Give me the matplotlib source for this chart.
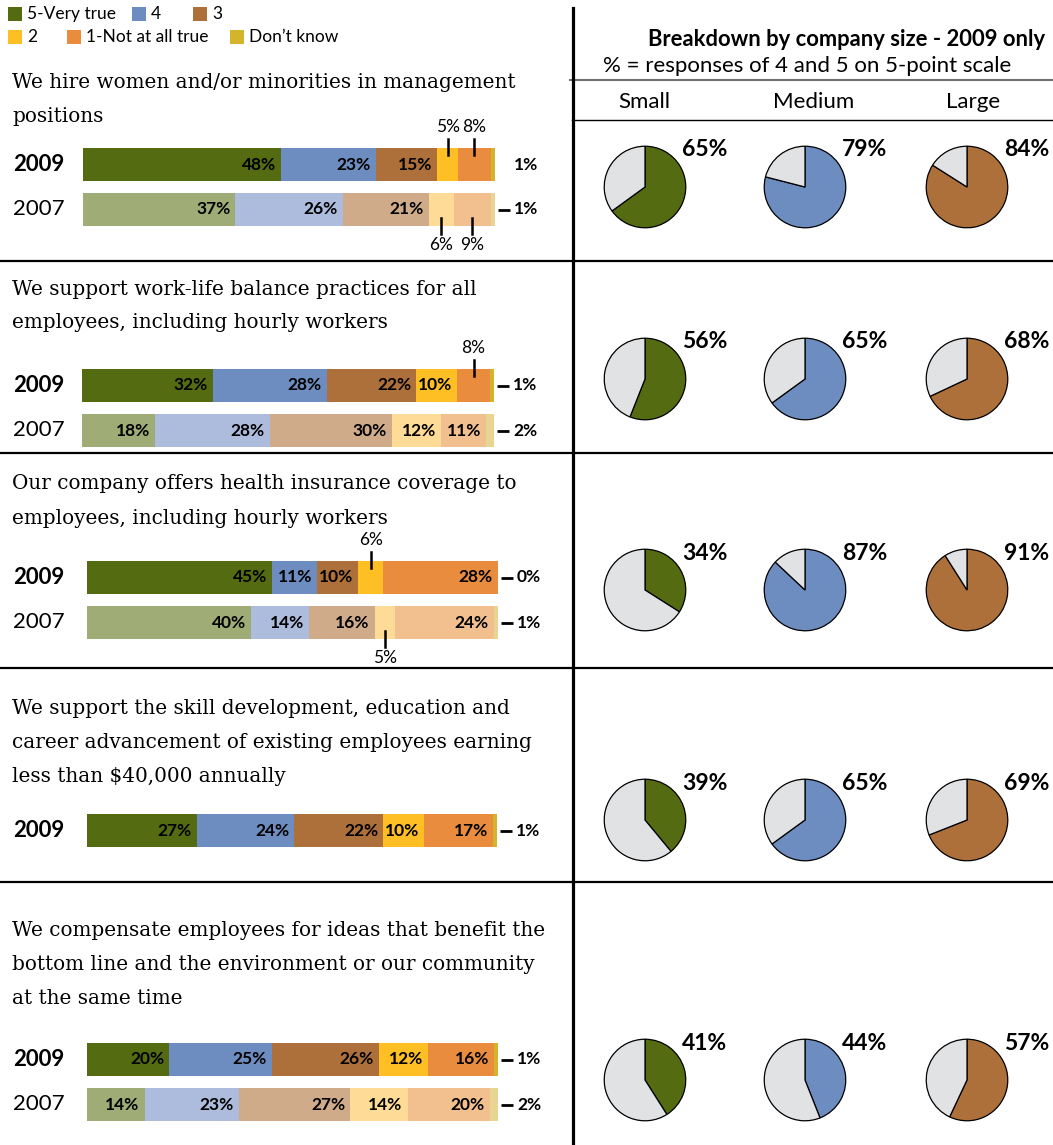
import numpy as np
import matplotlib
matplotlib.use("Agg")
import matplotlib.pyplot as plt
from matplotlib.lines import Line2D
from matplotlib.patches import Rectangle

# ---- data ----
categories = ["5-Very true", "4", "3", "2", "1-Not at all true", "Don\u2019t know"]
questions = [
    ["We hire women and/or minorities in management", "positions"],
    ["We support work-life balance practices for all", "employees, including hourly workers"],
    ["Our company offers health insurance coverage to", "employees, including hourly workers"],
    ["We support the skill development, education and",
     "career advancement of existing employees earning",
     "less than $40,000 annually"],
    ["We compensate employees for ideas that benefit the",
     "bottom line and the environment or our community",
     "at the same time"],
]
v2009 = [[48, 23, 15, 5, 8, 1],
         [32, 28, 22, 10, 8, 1],
         [45, 11, 10, 6, 28, 0],
         [27, 24, 22, 10, 17, 1],
         [20, 25, 26, 12, 16, 1]]
v2007 = [[37, 26, 21, 6, 9, 1],
         [18, 28, 30, 12, 11, 2],
         [40, 14, 16, 5, 24, 1],
         None,
         [14, 23, 27, 14, 20, 2]]
sizes = ["Small", "Medium", "Large"]
pie_small = [65, 56, 34, 39, 41]
pie_medium = [79, 65, 87, 65, 44]
pie_large = [84, 68, 91, 69, 57]

# ---- styles ----
col09 = ['#546b12', '#6d8cc0', '#ae703a', '#fdbf24', '#e98c3e', '#d4b42a']
col07 = ['#a0ac75', '#adbbdc', '#cfab8a', '#fedb96', '#f2bf8f', '#e8d592']
grey = '#e1e2e4'
serif = 'DejaVu Serif'
sans = 'Lato'

W, H = 1053, 1145
fig = plt.figure(figsize=(W / 100, H / 100), dpi=100)

def fx(px):
    return px / W

def fy(py):
    return 1 - py / H

def hline(y, x0, x1, lw, color='black'):
    fig.add_artist(Line2D([fx(x0), fx(x1)], [fy(y), fy(y)], transform=fig.transFigure,
                          color=color, lw=lw))

# layout (pixels)
title_y = [82, 289, 484, 708, 930]
line_gap = 34
bar_x = [(83, 495), (82, 494), (87, 498), (87, 497), (87, 498)]
bar_y09 = [164.5, 385.5, 577.5, 830.5, 1059.5]
bar_y07 = [209.5, 430.5, 622.5, None, 1104.5]
dash09 = [False, True, True, True, True]
bar_h = 33
pie_x = [645, 805, 967]
pie_y = [187, 379, 590, 820, 1080]
pie_r = 41
lab_fs = 12.5

def draw_bar(vals, colors, x0, x1, yc, below, dash):
    ax = fig.add_axes([fx(x0), fy(yc + bar_h / 2), (x1 - x0) / W, bar_h / H])
    vals = np.array(vals)
    lefts = np.concatenate([[0], np.cumsum(vals)[:-1]])
    ax.barh([0] * len(vals), vals, left=lefts, height=1, color=colors, edgecolor='none')
    tot = vals.sum()
    ax.set_xlim(0, tot)
    ax.set_ylim(-0.5, 0.5)
    ax.axis('off')
    u = 1 / bar_h
    px = tot / (x1 - x0)
    for i, (v, l) in enumerate(zip(vals, lefts)):
        if i == len(vals) - 1:
            if dash:
                ax.plot([tot + 3 * px, tot + 15 * px], [0, 0], color='black', lw=2.0,
                        clip_on=False, solid_capstyle='butt')
            ax.annotate(f"{v}%", xy=(tot, 0), xytext=(19, 0), textcoords='offset pixels',
                        ha='left', va='center', fontsize=lab_fs, fontweight='bold', family=sans,
                        annotation_clip=False)
        elif v < 10:
            xc = l + v / 2
            if not below:
                ax.plot([xc, xc], [0.5 - 7 * u, 0.5 + 9 * u], color='black', lw=1.8, clip_on=False)
                ax.annotate(f"{v}%", xy=(xc, 0.5), xytext=(0, 21), textcoords='offset pixels',
                            ha='center', va='center', fontsize=lab_fs, family=sans,
                            annotation_clip=False)
            else:
                ax.plot([xc, xc], [-0.5 + 8 * u, -0.5 - 8 * u], color='black', lw=1.8, clip_on=False)
                ax.annotate(f"{v}%", xy=(xc, -0.5), xytext=(0, -19), textcoords='offset pixels',
                            ha='center', va='center', fontsize=lab_fs, family=sans,
                            annotation_clip=False)
        else:
            ax.annotate(f"{v}%", xy=(l + v, 0), xytext=(-5, 0), textcoords='offset pixels',
                        ha='right', va='center', fontsize=lab_fs, fontweight='bold', family=sans)

def draw_pie(v, color, cx, cy):
    ax = fig.add_axes([fx(cx - pie_r - 1), fy(cy + pie_r + 1), (2 * pie_r + 2) / W, (2 * pie_r + 2) / H])
    ax.pie([v, 100 - v], colors=[color, grey], startangle=90, counterclock=False,
           wedgeprops=dict(edgecolor='black', linewidth=0.9))
    ax.set_xlim(-1.03, 1.03)
    ax.set_ylim(-1.03, 1.03)
    ax.set_aspect('equal')
    ax.annotate(f"{v}%", xy=(0.5, 0.5), xycoords='axes fraction', xytext=(37, 37),
                textcoords='offset pixels', ha='left', va='center', fontsize=16.5,
                fontweight='bold', family=sans, annotation_clip=False)

# legend
leg_pos = [(8, 14), (132, 14), (193, 14), (8, 37), (67, 37), (230, 37)]
for (lx, ly), lab, c in zip(leg_pos, categories, col09):
    fig.add_artist(Rectangle((fx(lx), fy(ly + 7)), 14 / W, 14 / H, transform=fig.transFigure,
                             facecolor=c, edgecolor='none'))
    fig.text(fx(lx + 19), fy(ly), lab, ha='left', va='center', fontsize=12.5, family=sans)

# right header
fig.text(fx(1045), fy(40), "Breakdown by company size - 2009 only", ha='right', va='center',
         fontsize=15.8, fontweight='bold', family=sans)
fig.text(fx(603), fy(66), "% = responses of 4 and 5 on 5-point scale", ha='left', va='center',
         fontsize=16, family=sans)
for s, x in zip(sizes, [644, 814, 973]):
    fig.text(fx(x), fy(102), s, ha='center', va='center', fontsize=16, family=sans)

# separators
hline(80, 570, W, 1.5, '#707070')
hline(120, 572, W, 1.0)
for y in [261, 453, 668, 882]:
    hline(y, 0, W, 1.6)
fig.add_artist(Line2D([fx(573), fx(573)], [fy(8), fy(H)], transform=fig.transFigure,
                      color='black', lw=2.3))

for q in range(5):
    for k, line in enumerate(questions[q]):
        fig.text(fx(12), fy(title_y[q] + k * line_gap), line, ha='left', va='center',
                 fontsize=14.4, family=serif)
    x0, x1 = bar_x[q]
    fig.text(fx(13), fy(bar_y09[q]), "2009", ha='left', va='center', fontsize=16,
             fontweight='bold', family=sans)
    draw_bar(v2009[q], col09, x0, x1, bar_y09[q], False, dash09[q])
    if v2007[q] is not None:
        fig.text(fx(13), fy(bar_y07[q]), "2007", ha='left', va='center', fontsize=16, family=sans)
        draw_bar(v2007[q], col07, x0, x1, bar_y07[q], True, True)
    for v, c, px in zip([pie_small[q], pie_medium[q], pie_large[q]], col09[:3], pie_x):
        draw_pie(v, c, px, pie_y[q])

fig.savefig("out.png", dpi=100)
